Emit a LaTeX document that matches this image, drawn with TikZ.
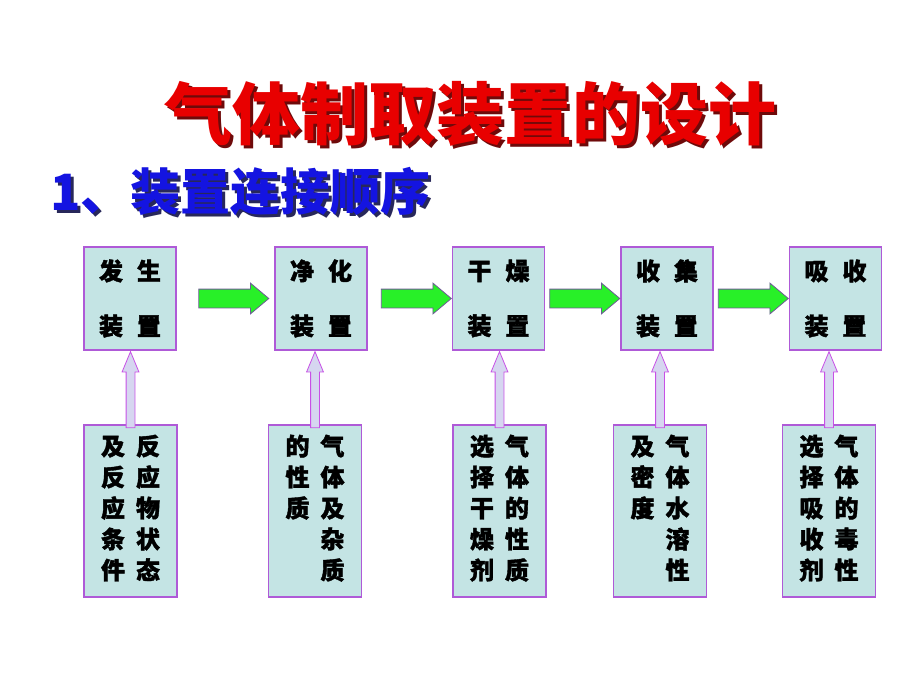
\documentclass[tikz,border=0pt]{standalone}
\usepackage{fontspec}
\newfontfamily\cjk[BoldFeatures={FakeBold=1.6}]{Noto Sans CJK SC}
\newfontfamily\cjkhead{Noto Sans CJK SC}
\usetikzlibrary{positioning,shapes.arrows,calc}
\definecolor{boxfill}{RGB}{196,228,228}
\definecolor{boxline}{RGB}{175,90,215}
\definecolor{flowgreen}{RGB}{40,240,40}
\definecolor{flowline}{RGB}{110,90,150}
\definecolor{needfill}{RGB}{214,214,240}
\definecolor{needline}{RGB}{200,80,230}
\definecolor{titlered}{RGB}{232,0,0}
\definecolor{titleshade}{RGB}{110,10,10}
\definecolor{subblue}{RGB}{20,20,225}
\definecolor{subshade}{RGB}{40,40,90}
\newcommand{\shadowed}[3]{\makebox[0pt][l]{\hspace{3pt}\raisebox{-3pt}{\textcolor{#2}{#1}}}\textcolor{#3}{#1}}
\tikzset{
  devbox/.style={draw=boxline,line width=1.2pt,fill=boxfill,minimum width=92pt,minimum height=103pt,
    inner sep=0pt,align=center,font=\cjk\bfseries\fontsize{24}{55}\selectfont},
  notebox/.style={draw=boxline,line width=1.2pt,fill=boxfill,minimum width=93pt,minimum height=172pt,
    inner sep=0pt,font=\cjk\bfseries\fontsize{24}{31}\selectfont},
  flowarrow/.style={single arrow,draw=flowline,line width=0.8pt,fill=flowgreen,minimum height=70pt,
    minimum width=30pt,single arrow head extend=6pt,single arrow tip angle=80,inner sep=9pt,anchor=tip},
  needarrow/.style={single arrow,shape border rotate=90,draw=needline,line width=0.8pt,fill=needfill,
    minimum height=76pt,minimum width=16pt,single arrow head extend=4pt,single arrow tip angle=45,
    inner sep=4pt,anchor=tip},
  headline/.style={font=\cjkhead\bfseries\fontsize{68}{68}\selectfont},
  subline/.style={font=\cjkhead\bfseries\fontsize{50}{50}\selectfont,anchor=west}
}
\begin{document}
\begin{tikzpicture}[x=1pt,y=-1pt]
\fill[white] (0,0) rectangle (920,690);
\useasboundingbox (0,0) rectangle (920,690);
\node[headline] (title) at (470,115) {\shadowed{气体制取装置的设计}{titleshade}{titlered}};
\node[subline] (sub) at (47,193) {\shadowed{1、装置连接顺序}{subshade}{subblue}};
% devices in order
\node[devbox] (gen) at (130,298.5) {发\hspace{14pt}生\\装\hspace{14pt}置};
\node[devbox] (purify) at (321,298.5) {净\hspace{14pt}化\\装\hspace{14pt}置};
\node[devbox] (dry) at (498.5,298.5) {干\hspace{14pt}燥\\装\hspace{14pt}置};
\node[devbox] (collect) at (667,298.5) {收\hspace{14pt}集\\装\hspace{14pt}置};
\node[devbox] (absorb) at (835.5,298.5) {吸\hspace{14pt}收\\装\hspace{14pt}置};
\node[flowarrow] (f1) at ([xshift=-5pt]purify.west) {};
\node[flowarrow] (f2) at (dry.west) {};
\node[flowarrow] (f3) at (collect.west) {};
\node[flowarrow] (f4) at (absorb.west) {};
% what each choice depends on
\node[notebox] (genNote) at (130.5,511) {\begin{tabular}{@{}c@{\hspace{11pt}}c@{}}及&反\\反&应\\应&物\\条&状\\件&态\end{tabular}};
\node[notebox] (purifyNote) at (315,511) {\begin{tabular}{@{}c@{\hspace{11pt}}c@{}}的&气\\性&体\\质&及\\&杂\\&质\end{tabular}};
\node[notebox] (dryNote) at (499.5,511) {\begin{tabular}{@{}c@{\hspace{11pt}}c@{}}选&气\\择&体\\干&的\\燥&性\\剂&质\end{tabular}};
\node[notebox] (collectNote) at (660,511) {\begin{tabular}{@{}c@{\hspace{11pt}}c@{}}及&气\\密&体\\度&水\\&溶\\&性\end{tabular}};
\node[notebox] (absorbNote) at (829,511) {\begin{tabular}{@{}c@{\hspace{11pt}}c@{}}选&气\\择&体\\吸&的\\收&毒\\剂&性\end{tabular}};
\node[needarrow] (u1) at (gen.south -| genNote.north) {};
\node[needarrow] (u2) at (purify.south -| purifyNote.north) {};
\node[needarrow] (u3) at (dry.south -| dryNote.north) {};
\node[needarrow] (u4) at (collect.south -| collectNote.north) {};
\node[needarrow] (u5) at (absorb.south -| absorbNote.north) {};
\end{tikzpicture}
\end{document}
